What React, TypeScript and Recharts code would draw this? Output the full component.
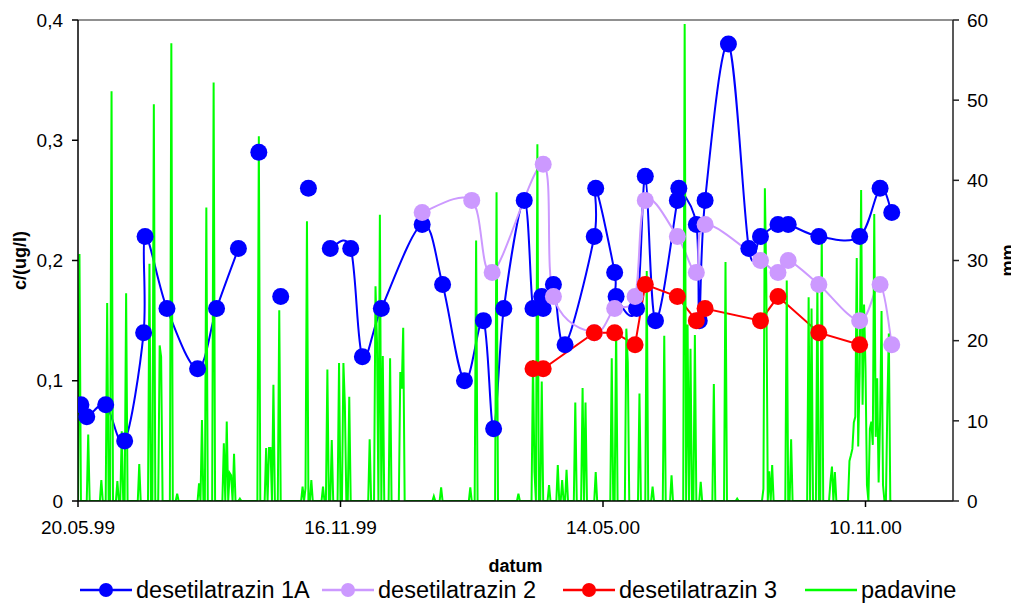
import React from 'react';
import { LineChart, Line, XAxis, YAxis, ReferenceLine, Legend } from 'recharts';

// ---------- data ----------
// x values are days counted from 20.05.99
const xTicks = [0, 180, 360, 540];
const leftTicks = [0, 0.1, 0.2, 0.3, 0.4];
const rightTicks = [0, 10, 20, 30, 40, 50, 60];

const blueDays = [-7, 2, 6, 19, 32, 45, 46, 61, 82, 95, 110, 117, 124, 131, 139, 148, 158, 165, 173, 187, 195, 208, 236, 250, 265, 278, 285, 292, 306, 312, 318, 319, 326, 334, 354, 355, 368, 369, 383, 389, 396, 411, 412, 424, 426, 430, 446, 460, 468, 480, 487, 508, 536, 550, 558];
const blueVals = [0.092, 0.08, 0.07, 0.08, 0.05, 0.14, 0.22, 0.16, 0.11, 0.16, 0.21, null, 0.29, null, 0.17, null, 0.26, null, 0.21, 0.21, 0.12, 0.16, 0.23, 0.18, 0.10, 0.15, 0.06, 0.16, 0.25, 0.16, 0.17, 0.16, 0.18, 0.13, 0.22, 0.26, 0.19, 0.17, 0.16, 0.27, 0.15, 0.25, 0.26, 0.23, 0.15, 0.25, 0.38, 0.21, 0.22, 0.23, 0.23, 0.22, 0.22, 0.26, 0.24];

const lavDays = [236, 270, 284, 319, 326, 354, 368, 382, 389, 411, 424, 430, 468, 480, 487, 508, 536, 550, 558];
const lavVals = [0.24, 0.25, 0.19, 0.28, 0.17, 0.14, 0.16, 0.17, 0.25, 0.22, 0.19, 0.23, 0.20, 0.19, 0.20, 0.18, 0.15, 0.18, 0.13];

const redDays = [312, 319, 354, 368, 382, 389, 411, 424, 430, 468, 480, 508, 536];
const redVals = [0.11, 0.11, 0.14, 0.14, 0.13, 0.18, 0.17, 0.15, 0.16, 0.15, 0.17, 0.14, 0.13];

// daily precipitation (mm); days not listed had 0 mm
const rainLastDay = 558;
const rainDays = [1, 7, 16, 20, 23, 27, 30, 33, 42, 49, 52, 56, 57, 64, 68, 83, 85, 88, 93, 100, 102, 104, 105, 107, 111, 124, 129, 131, 132, 134, 138, 154, 156, 157, 160, 168, 171, 174, 179, 182, 183, 186, 200, 204, 205, 207, 209, 214, 221, 222, 223, 244, 249, 269, 273, 287, 302, 312, 313, 315, 318, 323, 329, 332, 335, 341, 346, 348, 355, 366, 369, 376, 377, 385, 390, 394, 402, 407, 416, 418, 420, 423, 427, 436, 444, 452, 470, 471, 472, 474, 476, 486, 489, 501, 503, 507, 510, 516, 517, 519, 529, 530, 531, 532, 533, 534, 535, 536, 537, 538, 539, 540, 541, 543, 544, 545, 546, 547, 548, 549, 550, 551, 552, 555, 556];
const rainMm = [30.8, 8.3, 2.6, 24.7, 51.1, 2.5, 8.7, 25.9, 4.6, 29.6, 49.5, 19.4, 18.0, 57.1, 0.9, 2.2, 10.1, 36.6, 52.2, 7.2, 9.9, 3.5, 3.2, 5.9, 0.3, 45.5, 6.6, 6.6, 6.6, 14.5, 23.8, 1.8, 1.6, 34.9, 2.6, 1.8, 16.4, 7.6, 17.2, 17.2, 12.0, 13.0, 7.7, 26.8, 20.0, 35.7, 18.1, 17.8, 16.1, 14.0, 21.6, 0.6, 1.7, 1.7, 32.5, 38.5, 0.9, 17.6, 3.7, 44.5, 14.9, 2.0, 4.5, 2.6, 3.9, 12.3, 14.1, 12.3, 3.6, 17.8, 21.8, 21.5, 17.3, 13.4, 28.7, 1.8, 20.6, 3.2, 59.5, 22.0, 19.0, 20.7, 2.4, 14.6, 29.8, 0.3, 1.5, 39.0, 26.9, 3.7, 4.5, 27.5, 7.7, 25.4, 24.0, 27.3, 33.7, 2.5, 4.3, 3.6, 5.0, 5.7, 6.5, 9.8, 10.5, 30.3, 6.8, 16.0, 38.8, 12.0, 24.5, 16.6, 2.0, 9.0, 9.9, 7.0, 35.8, 8.0, 15.3, 2.3, 10.0, 23.7, 2.0, 12.0, 20.9];

const seriesNames = ['desetilatrazin 1A', 'desetilatrazin 2', 'desetilatrazin 3', 'padavine'];

// ---------- styling ----------
const FONT = '"Liberation Sans", Arial, Helvetica, sans-serif';
const BLUE = '#0000FF';
const LAV = '#CC99FF';
const RED = '#FF0000';
const GREEN = '#00FF00';
const seriesColors = [BLUE, LAV, RED, GREEN];
const seriesMarkers = [true, true, true, false];
const legendLefts = [72, 314, 555, 797];

// ---------- tables built from the arrays ----------
const blueData = blueDays.map((d, i) => ({ day: d, v: blueVals[i] }));
const lavData = lavDays.map((d, i) => ({ day: d, v: lavVals[i] }));
const redData = redDays.map((d, i) => ({ day: d, v: redVals[i] }));
const rainMap: Record<number, number> = {};
rainDays.forEach((d, i) => { rainMap[d] = rainMm[i]; });
const rainData = Array.from({ length: rainLastDay + 1 }, (_, d) => ({ day: d, mm: rainMap[d] ?? 0 }));

const START = Date.UTC(1999, 4, 20);
const pad = (n: number) => (n < 10 ? '0' + n : String(n));
const fmtDate = (d: number) => {
  const dt = new Date(START + d * 86400000);
  return `${pad(dt.getUTCDate())}.${pad(dt.getUTCMonth() + 1)}.${String(dt.getUTCFullYear()).slice(2)}`;
};
const fmtComma = (v: number) => String(v).replace('.', ',');

// Excel-like smoothed line (Catmull-Rom through the points)
const excelSmooth: any = (context: any) => {
  let pts: number[][] = [];
  return {
    areaStart() {},
    areaEnd() {},
    lineStart() { pts = []; },
    point(x: number, y: number) { pts.push([+x, +y]); },
    lineEnd() {
      const n = pts.length;
      if (!n) return;
      context.moveTo(pts[0][0], pts[0][1]);
      for (let i = 0; i < n - 1; i++) {
        const p0 = pts[i - 1] || pts[i];
        const p1 = pts[i];
        const p2 = pts[i + 1];
        const p3 = pts[i + 2] || p2;
        context.bezierCurveTo(
          p1[0] + (p2[0] - p0[0]) / 6, p1[1] + (p2[1] - p0[1]) / 6,
          p2[0] - (p3[0] - p1[0]) / 6, p2[1] - (p3[1] - p1[1]) / 6,
          p2[0], p2[1]
        );
      }
    },
  };
};

const tickStyle = { fill: '#000', fontSize: 19, fontFamily: FONT };

const leftLabel = (props: any) => {
  const vb = props.viewBox || { x: 0, y: 12, width: 70, height: 481 };
  const x = vb.x + 18;
  const y = vb.y + vb.height / 2;
  return (
    <text x={x} y={y} transform={`rotate(-90, ${x}, ${y})`} textAnchor="middle" fontFamily={FONT} fontSize={18} fontWeight="bold" fill="#000">
      c/(ug/l)
    </text>
  );
};
const rightLabel = (props: any) => {
  const vb = props.viewBox || { x: 945, y: 12, width: 66, height: 481 };
  const x = vb.x + 61;
  const y = vb.y + vb.height / 2;
  return (
    <text x={x} y={y} transform={`rotate(-90, ${x}, ${y})`} textAnchor="middle" fontFamily={FONT} fontSize={18} fontWeight="bold" fill="#000">
      mm
    </text>
  );
};
const bottomLabel = (props: any) => {
  const vb = props.viewBox || { x: 70, y: 493, width: 875, height: 70 };
  return (
    <text x={vb.x + vb.width / 2} y={vb.y + 71} textAnchor="middle" fontFamily={FONT} fontSize={18} fontWeight="bold" fill="#000">
      datum
    </text>
  );
};

const renderLegend = () => (
  <div style={{ position: 'relative', width: 1003, height: 26, fontFamily: FONT }}>
    {seriesNames.map((name, i) => (
      <div key={name} style={{ position: 'absolute', left: legendLefts[i], top: 0, height: 26, display: 'flex', alignItems: 'center', whiteSpace: 'nowrap' }}>
        <svg width={52} height={20} style={{ display: 'block' }}>
          <line x1={0} y1={10} x2={52} y2={10} stroke={seriesColors[i]} strokeWidth={2.5} />
          {seriesMarkers[i] && <circle cx={26} cy={10} r={7} fill={seriesColors[i]} />}
        </svg>
        <span style={{ marginLeft: 4, fontSize: 23.5, lineHeight: '26px', color: '#000' }}>{name}</span>
      </div>
    ))}
  </div>
);

export default function App() {
  return (
    <LineChart width={1011} height={597} margin={{ top: 12, right: 0, left: 0, bottom: 34 }}>
      <XAxis
        dataKey="day"
        type="number"
        domain={[0, 600]}
        allowDataOverflow
        ticks={xTicks}
        tickFormatter={fmtDate}
        height={70}
        tickSize={6}
        tickMargin={14}
        tick={tickStyle}
        axisLine={{ stroke: '#000', strokeWidth: 1.5 }}
        tickLine={{ stroke: '#000', strokeWidth: 1.5 }}
        label={bottomLabel}
      />
      <YAxis
        yAxisId="left"
        domain={[0, 0.4]}
        allowDataOverflow
        ticks={leftTicks}
        tickFormatter={fmtComma}
        width={70}
        tickSize={6}
        tickMargin={9}
        tick={tickStyle}
        axisLine={{ stroke: '#000', strokeWidth: 1.5 }}
        tickLine={{ stroke: '#000', strokeWidth: 1.5 }}
        label={leftLabel}
      />
      <YAxis
        yAxisId="right"
        orientation="right"
        domain={[0, 60]}
        allowDataOverflow
        ticks={rightTicks}
        width={66}
        tickSize={6}
        tickMargin={8}
        tick={tickStyle}
        axisLine={{ stroke: '#222', strokeWidth: 1.5 }}
        tickLine={{ stroke: '#222', strokeWidth: 1.5 }}
        label={rightLabel}
      />
      <ReferenceLine yAxisId="left" y={0.4} stroke="#222" strokeWidth={1.2} />
      <Line
        yAxisId="left"
        data={blueData}
        dataKey="v"
        name={seriesNames[0]}
        type={excelSmooth}
        stroke={BLUE}
        strokeWidth={2}
        dot={{ r: 8.5, fill: BLUE, stroke: BLUE, strokeWidth: 0 }}
        activeDot={false}
        isAnimationActive={false}
      />
      <Line
        yAxisId="left"
        data={lavData}
        dataKey="v"
        name={seriesNames[1]}
        type={excelSmooth}
        stroke={LAV}
        strokeWidth={2}
        dot={{ r: 8.5, fill: LAV, stroke: LAV, strokeWidth: 0 }}
        activeDot={false}
        isAnimationActive={false}
      />
      <Line
        yAxisId="left"
        data={redData}
        dataKey="v"
        name={seriesNames[2]}
        type="linear"
        stroke={RED}
        strokeWidth={2}
        dot={{ r: 8.5, fill: RED, stroke: RED, strokeWidth: 0 }}
        activeDot={false}
        isAnimationActive={false}
      />
      <Line
        yAxisId="right"
        data={rainData}
        dataKey="mm"
        name={seriesNames[3]}
        type="linear"
        stroke={GREEN}
        strokeWidth={2}
        dot={false}
        activeDot={false}
        isAnimationActive={false}
      />
      <Legend
        layout="horizontal"
        verticalAlign="middle"
        align="center"
        content={renderLegend}
        wrapperStyle={{ top: 569, left: 0, width: 1003, height: 26 }}
      />
    </LineChart>
  );
}
